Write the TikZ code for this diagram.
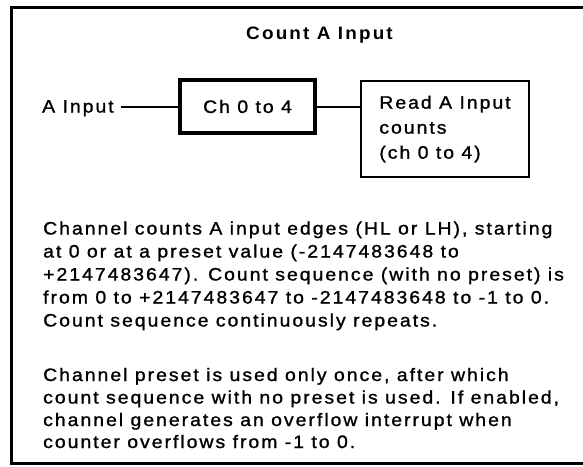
\documentclass[tikz,border=0pt]{standalone}
\usepackage{fontspec}
\setmainfont{Liberation Sans}[LetterSpace=11, FakeStretch=1.08, FakeBold=1.2]
\newfontfamily\titlefont{Liberation Sans}[LetterSpace=12, FakeStretch=1.05]
\begin{document}
\begin{tikzpicture}[x=1pt,y=-1pt,
  every node/.style={inner sep=0pt, font=\fontsize{18}{23}\selectfont},
  conn/.style={line width=2pt},
  txt/.style={anchor=base west}]
\useasboundingbox (0,0) rectangle (583,466);
\draw[line width=3pt] (583,7) -- (11,7) -- (11,463) -- (583,463);
\node[anchor=base, font=\fontsize{18}{20}\titlefont\bfseries] (title) at (319.5,39.5) {Count A Input};
\node[anchor=base west] (ain) at (42,112.5) {A Input};
\node[draw, line width=3.5pt, minimum width=135pt, minimum height=53pt] (ch) at (247.5,106.5) {Ch 0 to 4};
\node[draw, line width=2pt, minimum width=168pt, minimum height=96pt, align=left,
      font=\fontsize{18}{25}\selectfont] (rd) at (445,129) {Read A Input\\counts\\(ch 0 to 4)};
\draw[conn, shorten >=7pt] (ch.west) -- (ch.west -| ain.east);
\draw[conn] (ch.east) -- (ch.east -| rd.west);
\node[txt] (p1) at (43,234.5) {Channel counts A input edges (HL or LH), starting};
\node[txt] (p2) at (43,257.5) {at 0 or at a preset value (-2147483648 to};
\node[txt] (p3) at (43,280.5) {+2147483647). Count sequence (with no preset) is};
\node[txt] (p4) at (43,303.5) {from 0 to +2147483647 to -2147483648 to -1 to 0.};
\node[txt] (p5) at (43,326.5) {Count sequence continuously repeats.};
\node[txt] (q1) at (43,381) {Channel preset is used only once, after which};
\node[txt] (q2) at (43,403.5) {count sequence with no preset is used. If enabled,};
\node[txt] (q3) at (43,426) {channel generates an overflow interrupt when};
\node[txt] (q4) at (43,448) {counter overflows from -1 to 0.};
\end{tikzpicture}
\end{document}
